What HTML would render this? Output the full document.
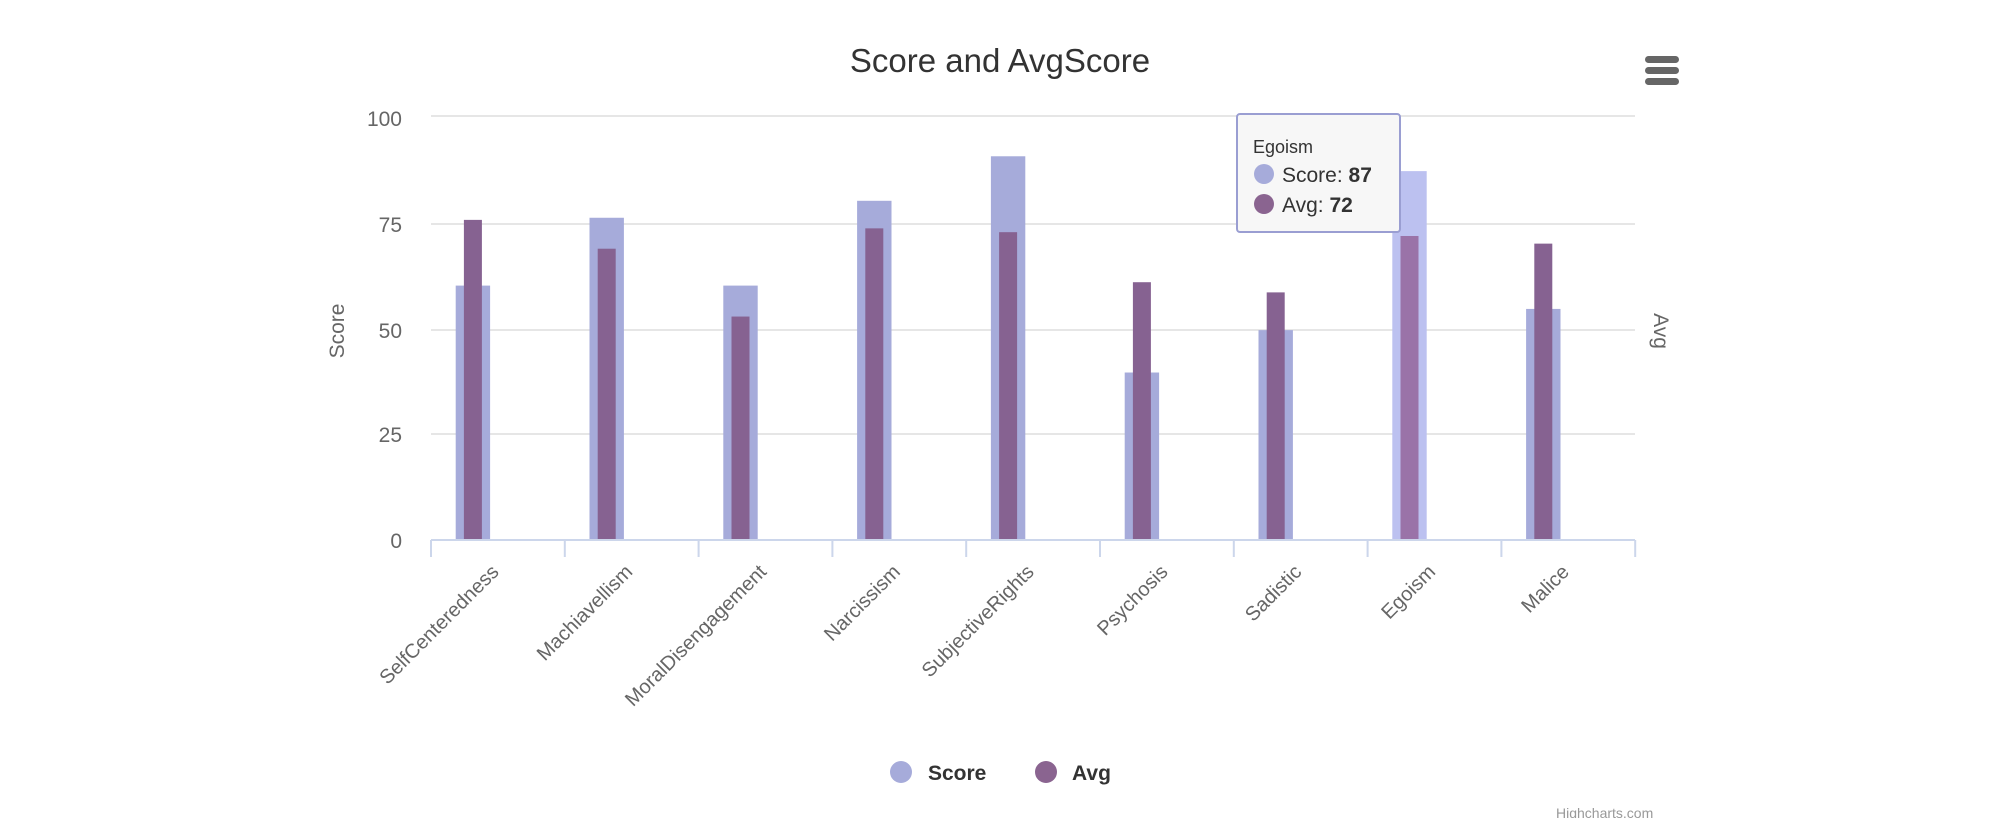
<!DOCTYPE html>
<html><head><style>
html,body{margin:0;padding:0;background:#fff;}
svg text{font-family:"Liberation Sans",sans-serif;}
</style></head><body>
<svg width="2000" height="818" xmlns="http://www.w3.org/2000/svg">
<rect width="2000" height="818" fill="#fff"/>
<text x="1000" y="72" text-anchor="middle" font-size="33" fill="#333">Score and AvgScore</text>
<g fill="#666"><rect x="1645" y="56" width="34" height="7" rx="3.5"/><rect x="1645" y="67" width="34" height="7" rx="3.5"/><rect x="1645" y="78" width="34" height="7" rx="3.5"/></g>
<g stroke="#e6e6e6" stroke-width="2">
<line x1="431" x2="1635" y1="116" y2="116"/><line x1="431" x2="1635" y1="224" y2="224"/>
<line x1="431" x2="1635" y1="330" y2="330"/><line x1="431" x2="1635" y1="434" y2="434"/>
</g>
<g font-size="21" fill="#666" text-anchor="end">
<text x="402" y="126">100</text><text x="402" y="232">75</text><text x="402" y="338">50</text><text x="402" y="442">25</text><text x="402" y="548">0</text>
</g>
<text transform="translate(344,331) rotate(-90)" text-anchor="middle" font-size="21" fill="#666">Score</text>
<text transform="translate(1654,331) rotate(90)" text-anchor="middle" font-size="21" fill="#666">Avg</text>
<g id="bars"></g>
<line x1="431" x2="1635" y1="540" y2="540" stroke="#ccd6eb" stroke-width="2"/>
<g stroke="#ccd6eb" stroke-width="2" id="ticks"></g>
<g font-size="20" fill="#666" id="xl"></g>
<g>
<rect x="1237" y="114" width="163" height="118" rx="3" fill="#f7f7f7" stroke="#9a9ed2" stroke-width="2"/>
<text x="1253" y="153" font-size="18" fill="#333">Egoism</text>
<circle cx="1264" cy="174" r="10" fill="#a6abda"/>
<text x="1282" y="182" font-size="21" fill="#333">Score: <tspan font-weight="bold">87</tspan></text>
<circle cx="1264" cy="204" r="10" fill="#8a6490"/>
<text x="1282" y="212" font-size="21" fill="#333">Avg: <tspan font-weight="bold">72</tspan></text>
</g>
<circle cx="901" cy="772" r="11" fill="#a6abda"/>
<text x="928" y="780" font-size="21" font-weight="bold" fill="#333">Score</text>
<circle cx="1046" cy="772" r="11" fill="#8a6490"/>
<text x="1072" y="780" font-size="21" font-weight="bold" fill="#333">Avg</text>
<text x="1556" y="818" font-size="14" fill="#999">Highcharts.com</text>
</svg>
<script>
var names=["SelfCenteredness","Machiavellism","MoralDisengagement","Narcissism","SubjectiveRights","Psychosis","Sadistic","Egoism","Malice"];
var s=[60,76,60,80,90.5,39.5,49.5,87,54.5],a=[75.5,68.7,52.7,73.5,72.6,60.8,58.4,71.7,69.9];
var ns="http://www.w3.org/2000/svg",b=document.getElementById("bars"),t=document.getElementById("ticks"),xl=document.getElementById("xl");
var L=431,W=133.8,y0=540,k=4.24;
function r(x,y,w,h,f){var e=document.createElementNS(ns,"rect");e.setAttribute("x",x);e.setAttribute("y",y);e.setAttribute("width",w);e.setAttribute("height",h);e.setAttribute("fill",f);b.appendChild(e);}
for(var i=0;i<9;i++){var c=L+W*i+W/2-25;
r(c-17.2,y0-s[i]*k,34.4,s[i]*k,i==7?"#bcc1f0":"#a6abda");
r(c-9,y0-a[i]*k,18,a[i]*k,i==7?"#9a73a8":"#866291");
var tx=L+W*(i+0.5)+2;var e=document.createElementNS(ns,"text");e.setAttribute("transform","translate("+tx+",573) rotate(-45)");e.setAttribute("text-anchor","end");e.textContent=names[i];xl.appendChild(e);}
for(var j=0;j<=9;j++){var l=document.createElementNS(ns,"line");var x=L+W*j;l.setAttribute("x1",x);l.setAttribute("x2",x);l.setAttribute("y1",540);l.setAttribute("y2",557);t.appendChild(l);}
</script>
</body></html>
